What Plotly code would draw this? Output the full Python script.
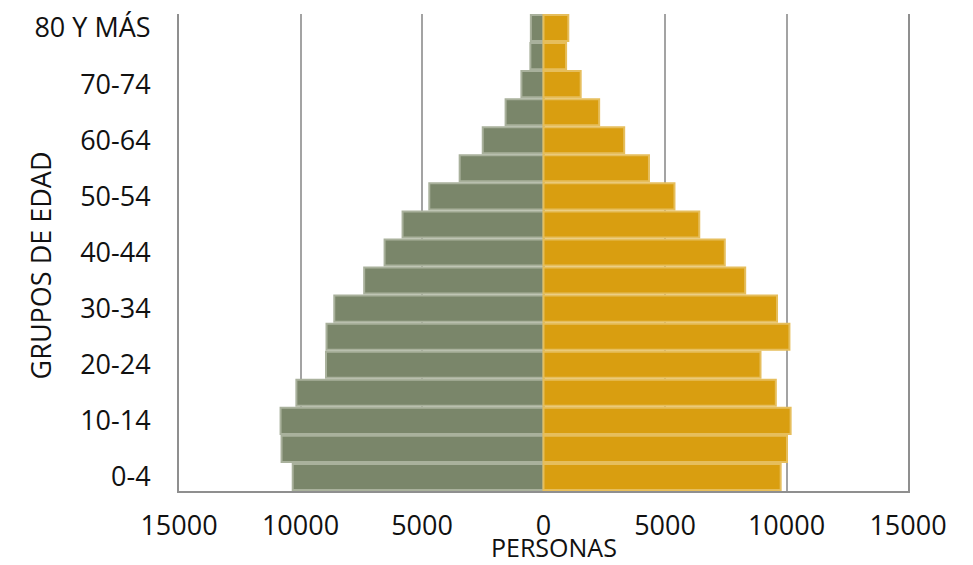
import plotly.graph_objects as go

age_groups = ["0-4", "5-9", "10-14", "15-19", "20-24", "25-29", "30-34", "35-39",
              "40-44", "45-49", "50-54", "55-59", "60-64", "65-69", "70-74", "75-79", "80 Y MÁS"]
hombres = [10320, 10780, 10820, 10170, 8950, 8930, 8610, 7380,
           6540, 5800, 4700, 3450, 2500, 1560, 910, 540, 520]
mujeres = [9760, 10020, 10170, 9560, 8930, 10120, 9610, 8300,
           7460, 6410, 5390, 4340, 3320, 2290, 1530, 930, 1020]
tick_labels_y = ["0-4", "10-14", "20-24", "30-34", "40-44", "50-54", "60-64", "70-74", "80 Y MÁS"]
x_tickvals = [-15000, -10000, -5000, 0, 5000, 10000, 15000]
x_ticktext = ["15000", "10000", "5000", "0", "5000", "10000", "15000"]

FONT = "Open Sans"

fig = go.Figure()
fig.add_trace(go.Bar(
    y=age_groups, x=[-v for v in hombres], orientation="h", name="Hombres",
    marker=dict(color="#7A866A", line=dict(color="#A9B19C", width=2)),
))
fig.add_trace(go.Bar(
    y=age_groups, x=mujeres, orientation="h", name="Mujeres",
    marker=dict(color="#D99E10", line=dict(color="#E6BE5C", width=2)),
))

# the page body adds an 8px offset, compensated in the margins
fig.update_layout(
    width=965, height=557,
    margin=dict(l=171, r=65, t=6, b=74),
    paper_bgcolor="white", plot_bgcolor="white",
    barmode="overlay", bargap=0.07,
    showlegend=False,
    font=dict(family=FONT, size=27, color="#111111"),
    xaxis=dict(
        range=[-15000, 15000], tickvals=x_tickvals, ticktext=x_ticktext,
        showgrid=True, gridcolor="#A3A3A3", gridwidth=1.5,
        zeroline=True, zerolinecolor="#A3A3A3", zerolinewidth=1.5,
        showline=True, linecolor="#8F8F8F", linewidth=2,
        ticks="", ticklabelstandoff=10, automargin=False,
        tickfont=dict(family=FONT, size=27),
    ),
    yaxis=dict(
        type="category", categoryorder="array", categoryarray=age_groups,
        tickvals=tick_labels_y, ticktext=tick_labels_y,
        showgrid=False, showline=True, mirror=True,
        linecolor="#8F8F8F", linewidth=2,
        ticks="", ticklabelstandoff=21, automargin=False,
        tickfont=dict(family=FONT, size=27),
    ),
    annotations=[
        dict(text="PERSONAS", xref="paper", yref="paper", x=0.514, y=-0.118,
             xanchor="center", yanchor="middle", showarrow=False, borderpad=0,
             font=dict(family=FONT, size=25, color="#111111")),
        dict(text="GRUPOS DE EDAD", xref="paper", yref="paper", x=-0.19, y=0.474,
             xanchor="center", yanchor="middle", textangle=-90, showarrow=False,
             font=dict(family=FONT, size=27, color="#111111")),
    ],
)

fig.write_html("out.html")
